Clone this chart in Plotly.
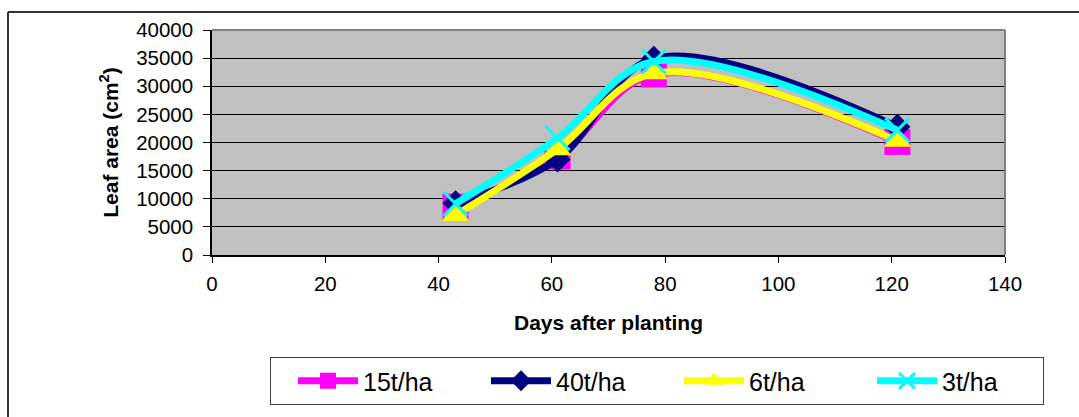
import plotly.graph_objects as go

days = [43, 61, 78, 121]
series_names = ["15t/ha", "40t/ha", "6t/ha", "3t/ha"]
leaf_15 = [8600, 17500, 32100, 20100]
leaf_40 = [9200, 17000, 34900, 22800]
leaf_6 = [7100, 18800, 32300, 20300]
leaf_3 = [9100, 20800, 34400, 22200]

colors = ["#FF00FF", "#000080", "#FFFF00", "#00FFFF"]
symbols = ["square", "diamond", "triangle-up", "x-thin"]
sizes = [26, 20, 24, 24]
values = [leaf_15, leaf_40, leaf_6, leaf_3]

W, H = 1079, 417
L, R, T, B = 212, 1005, 30, 255

fig = go.Figure()
for name, vals, c, s, sz in zip(series_names, values, colors, symbols, sizes):
    marker = dict(symbol=s, size=sz, color=c)
    if s == "x-thin":
        marker["line"] = dict(color=c, width=3)
    else:
        marker["line"] = dict(width=0)
    fig.add_trace(go.Scatter(
        x=days, y=vals, name=name, mode="lines+markers",
        line=dict(color=c, width=7, shape="spline", smoothing=1.0),
        marker=marker,
    ))

font = "Liberation Sans, Arial, sans-serif"
fig.update_layout(
    width=W, height=H,
    margin=dict(l=L, r=W - R, t=T, b=H - B, pad=0, autoexpand=False),
    paper_bgcolor="white", plot_bgcolor="#C0C0C0",
    font=dict(family=font, size=20, color="black"),
    showlegend=True,
    legend=dict(
        orientation="h", xref="container", yref="container",
        x=270 / W, xanchor="left",
        y=(H - 357) / H, yanchor="top",
        bordercolor="#404040", borderwidth=1, bgcolor="white",
        font=dict(family=font, size=25, color="black"),
        itemwidth=60, entrywidth=96, entrywidthmode="pixels",
        indentation=22,
        traceorder="normal",
    ),
    xaxis=dict(
        range=[0, 140], dtick=20, tick0=0, showgrid=False, zeroline=False,
        showline=True, linecolor="black", linewidth=1.5,
        ticks="outside", ticklen=6, tickcolor="black", tickwidth=1,
        tickfont=dict(size=20.5), ticklabelstandoff=4,
        title=dict(text="<b>Days after planting</b>", font=dict(size=21), standoff=21),
    ),
    yaxis=dict(
        range=[0, 40000], dtick=5000, tick0=0, tickformat="d", showgrid=True, gridcolor="black",
        gridwidth=1, zeroline=False,
        showline=True, linecolor="black", linewidth=1.5,
        ticks="outside", ticklen=7, tickcolor="black", tickwidth=1,
        tickfont=dict(size=20.5), ticklabelstandoff=6,
        title=dict(text="<b>Leaf area (cm<sup>2</sup>)</b>", font=dict(size=21), standoff=12),
    ),
    shapes=[
        # outer chart frame (left and top edges)
        dict(type="line", xref="paper", yref="paper",
             x0=(8 - L) / (R - L), x1=(8 - L) / (R - L),
             y0=(B - 12) / (B - T), y1=(B - 420) / (B - T),
             line=dict(color="#333333", width=2)),
        dict(type="line", xref="paper", yref="paper",
             x0=(8 - L) / (R - L), x1=(1085 - L) / (R - L),
             y0=(B - 12) / (B - T), y1=(B - 12) / (B - T),
             line=dict(color="#333333", width=2)),
        # plot-area border top and right
        dict(type="line", xref="paper", yref="paper", x0=0, x1=1, y0=1, y1=1,
             line=dict(color="#808080", width=2), layer="above"),
        dict(type="line", xref="paper", yref="paper", x0=1, x1=1, y0=0, y1=1,
             line=dict(color="#808080", width=2), layer="above"),
    ],
)

fig.write_html("out.html")
